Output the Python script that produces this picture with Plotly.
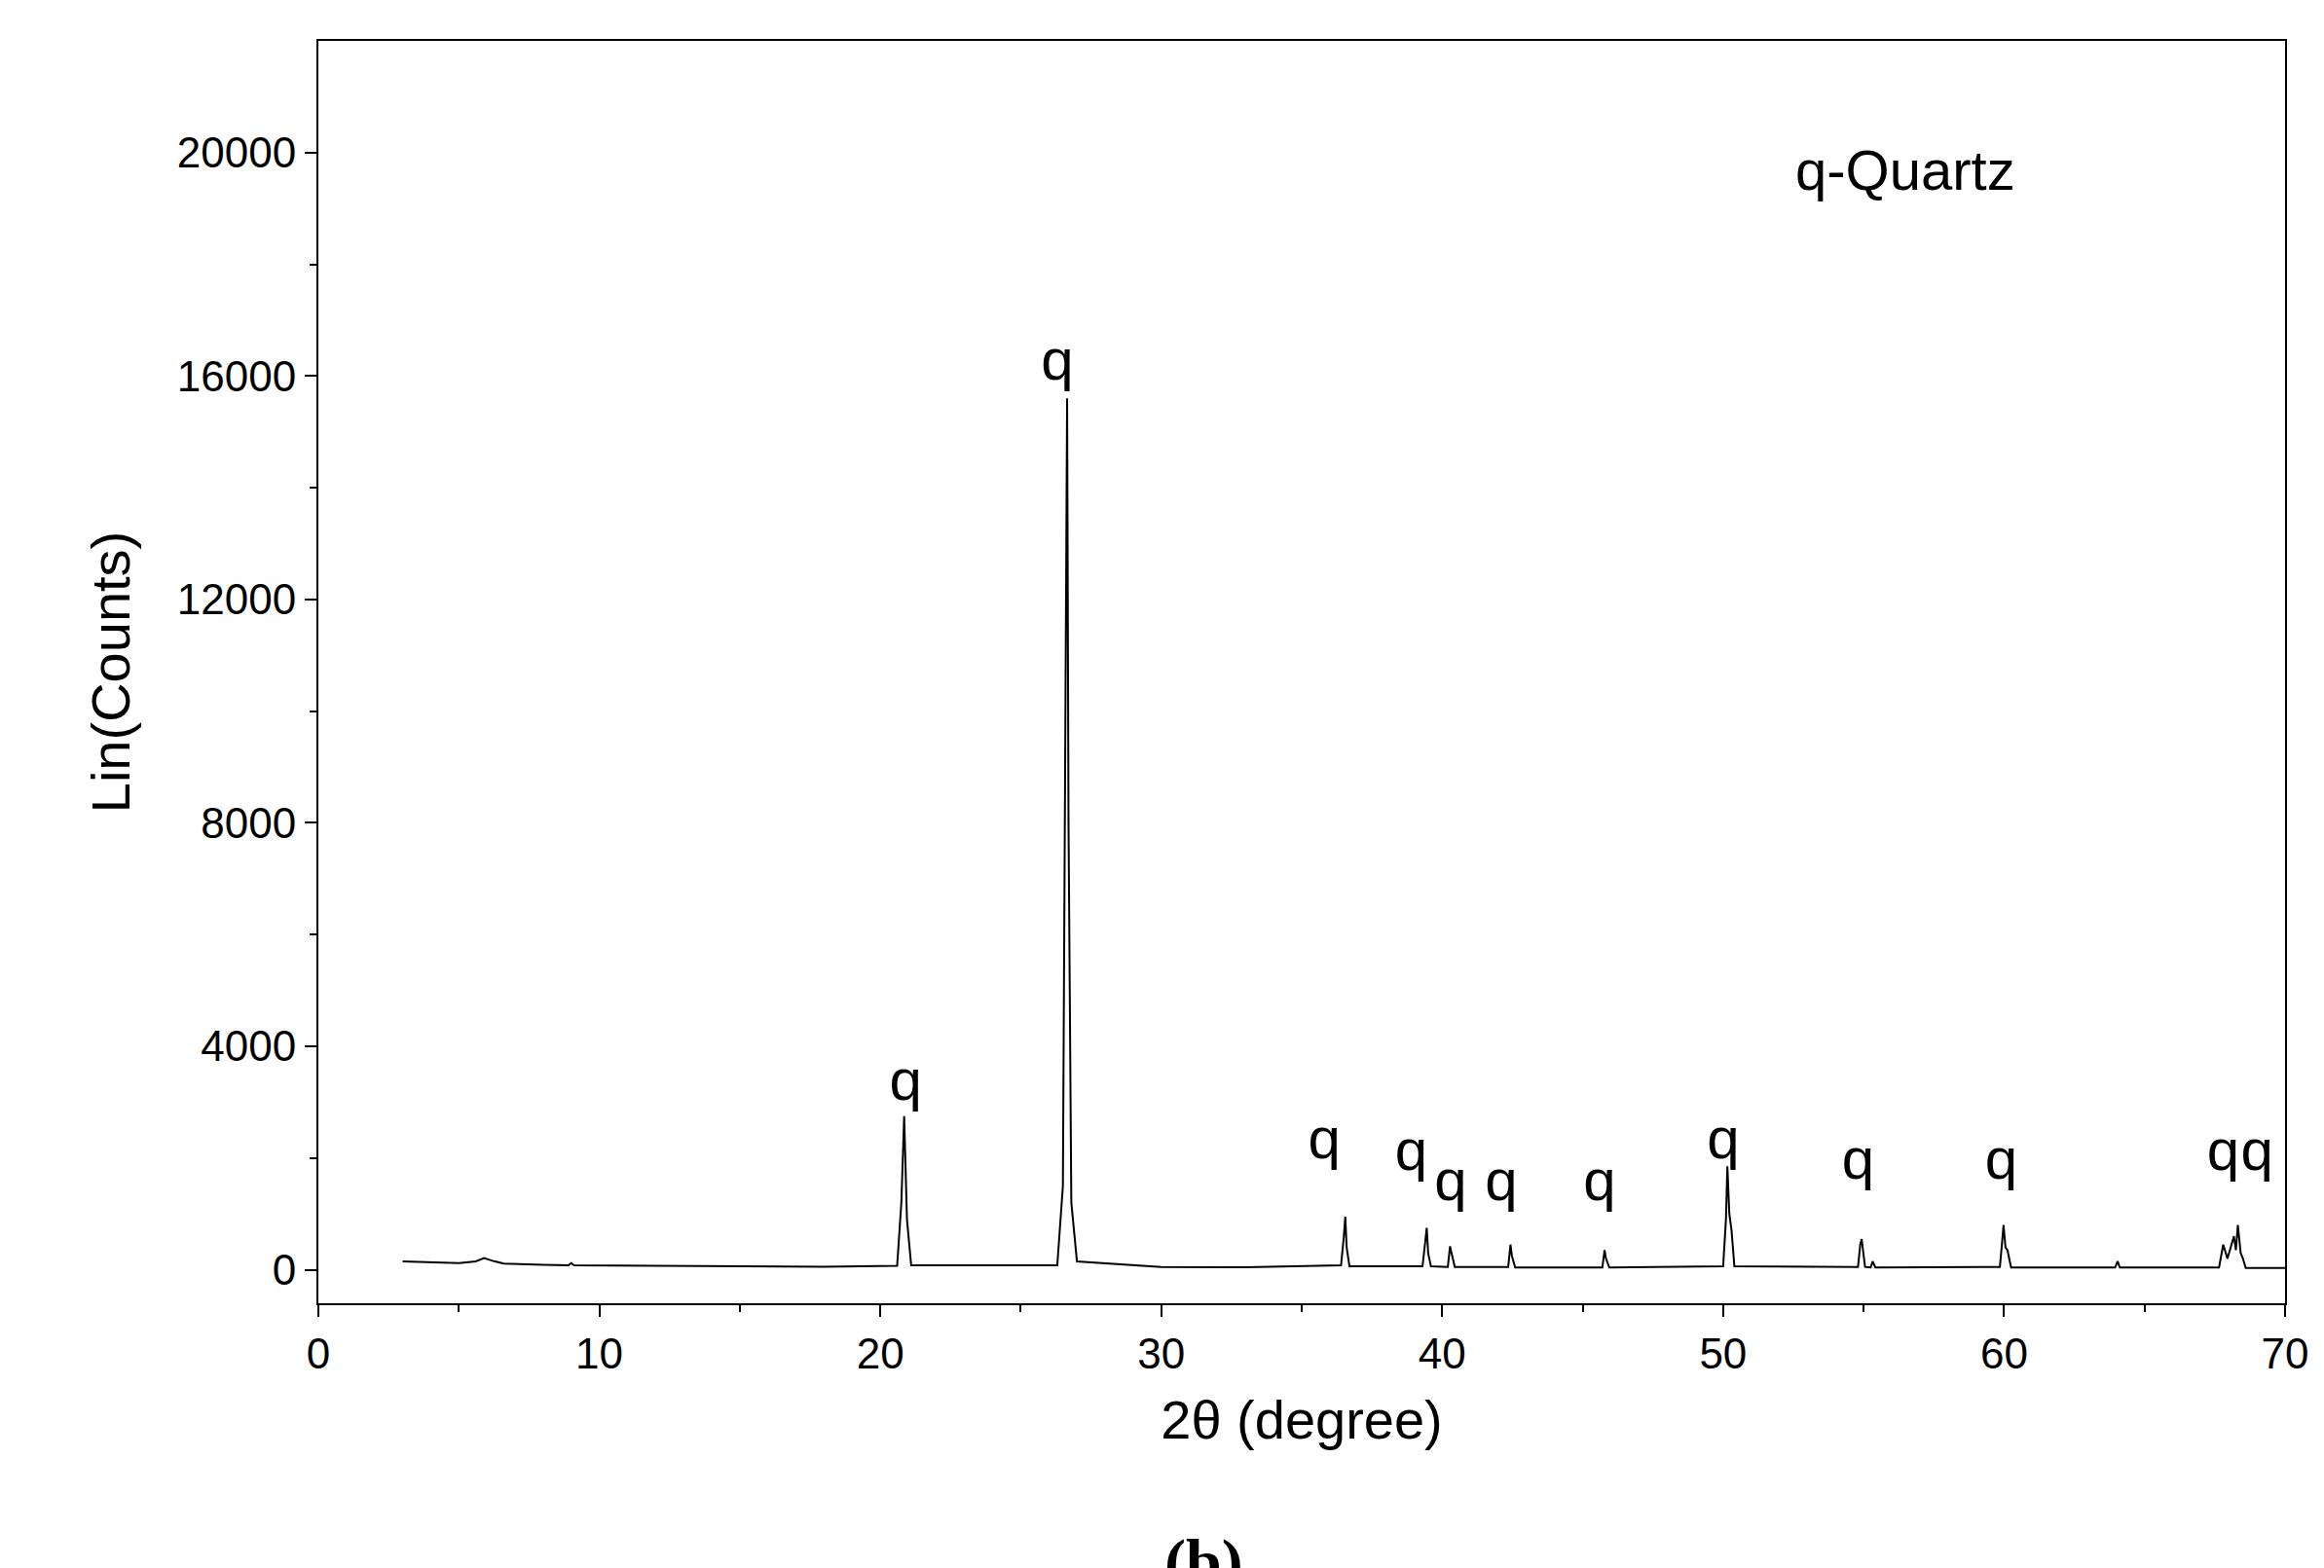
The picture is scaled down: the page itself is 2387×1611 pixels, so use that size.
import plotly.graph_objects as go

# XRD profile points (2theta, counts)
two_theta = [3.0, 4.0, 5.0, 5.6, 5.9, 6.2, 6.6, 8.0, 8.9, 9.0, 9.1, 12, 15, 18, 20.6, 20.75, 20.85, 20.95, 21.1,
             26.3, 26.5, 26.6, 26.65, 26.7, 26.8, 27.0, 30, 33, 36.4, 36.5, 36.55, 36.6, 36.7,
             39.3, 39.4, 39.45, 39.5, 39.6, 40.2, 40.28, 40.33, 40.45, 42.35, 42.43, 42.48, 42.6,
             45.7, 45.78, 45.83, 45.95, 50.0, 50.1, 50.15, 50.22, 50.3, 50.4, 54.8, 54.88, 54.93, 55.05,
             55.25, 55.32, 55.42, 59.85, 59.93, 59.98, 60.05, 60.12, 60.25, 63.95, 64.04, 64.12,
             67.65, 67.74, 67.8, 67.95, 68.1, 68.18, 68.25, 68.32, 68.42, 68.5, 68.6, 70.0]
counts = [150, 140, 120, 150, 210, 160, 110, 90, 80, 120, 80, 70, 60, 55, 70, 1200, 2750, 900, 80,
          80, 1500, 10800, 15600, 8000, 1200, 150, 50, 45, 80, 600, 950, 400, 60,
          60, 500, 750, 300, 60, 50, 420, 300, 50, 50, 450, 250, 40,
          40, 350, 200, 40, 60, 900, 1850, 1000, 700, 60, 50, 450, 550, 50,
          40, 150, 40, 50, 500, 800, 400, 350, 40, 40, 150, 40,
          40, 300, 450, 200, 450, 600, 350, 800, 300, 200, 30, 30]

y_ticks = [0, 4000, 8000, 12000, 16000, 20000]
y_tick_labels = ["0", "4000", "8000", "12000", "16000", "20000"]

label_x = [20.9, 26.3, 35.8, 38.9, 40.3, 42.1, 45.6, 50.0, 54.8, 59.9, 67.8, 69.0]
label_y = [3300, 16200, 2250, 2050, 1500, 1500, 1500, 2250, 1900, 1900, 2050, 2050]

FONT = "Liberation Sans"
fig = go.Figure()
fig.add_trace(go.Scatter(x=two_theta, y=counts, mode="lines",
                         line=dict(color="black", width=2), showlegend=False))
fig.add_trace(go.Scatter(x=label_x, y=label_y, mode="text", text=["q"] * len(label_x),
                         textfont=dict(size=60, color="black", family=FONT),
                         showlegend=False))
fig.add_annotation(x=52.5, y=19700, text="q-Quartz", showarrow=False, xanchor="left",
                   font=dict(size=58, color="black", family=FONT))
fig.add_annotation(x=0.45, y=-0.175, xref="paper", yref="paper", text="<b>(b)</b>",
                   showarrow=False, yanchor="top",
                   font=dict(size=66, color="black", family="Liberation Serif"))

axis_common = dict(showgrid=False, zeroline=False, showline=True, linecolor="black", linewidth=2,
                   mirror=True, ticks="outside", ticklen=12, tickwidth=2, tickcolor="black",
                   tickfont=dict(size=44, color="black", family=FONT))
fig.update_xaxes(range=[0, 70], dtick=10, minor=dict(dtick=5, ticks="outside", ticklen=7, tickcolor="black"),
                 title=dict(text="2θ (degree)", font=dict(size=56, color="black", family=FONT), standoff=25),
                 **axis_common)
fig.update_yaxes(range=[-600, 22000], tickvals=y_ticks, ticktext=y_tick_labels,
                 minor=dict(tickvals=[2000, 6000, 10000, 14000, 18000], ticks="outside", ticklen=7, tickcolor="black"),
                 title=dict(text="Lin(Counts)", font=dict(size=56, color="black", family=FONT), standoff=30),
                 **axis_common)
fig.update_layout(width=2387, height=1611, plot_bgcolor="white", paper_bgcolor="white",
                  margin=dict(l=319, r=48, t=34, b=280))
fig.write_html("out.html")
